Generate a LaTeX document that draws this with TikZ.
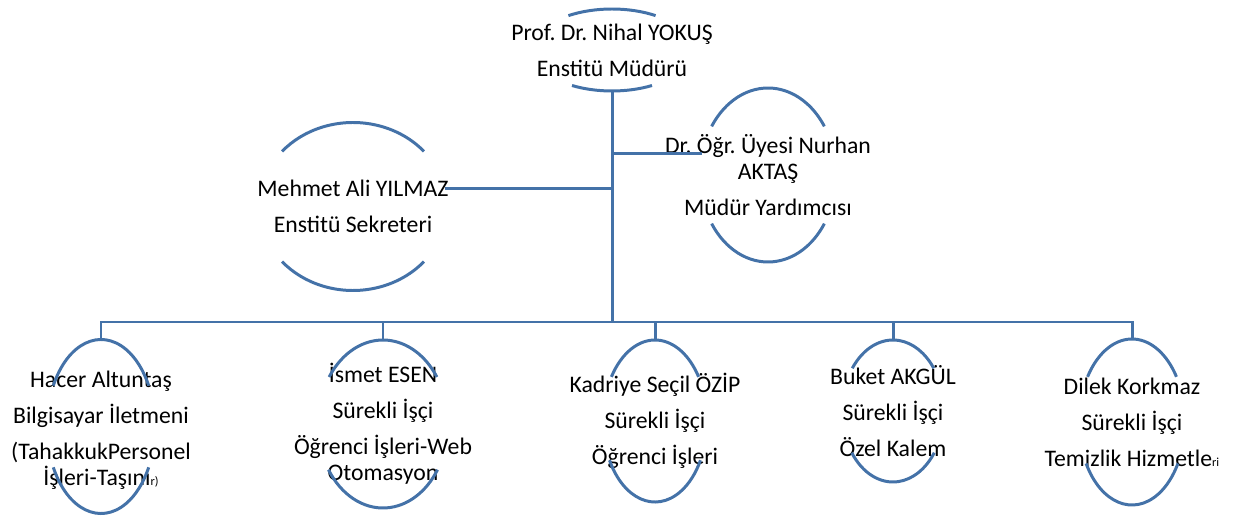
\documentclass[tikz,border=0pt]{standalone}
\usepackage{fontspec}
\setmainfont{Carlito}
\usepackage{tikz}
\usetikzlibrary{positioning, shapes.geometric}
\definecolor{orgblue}{RGB}{68,114,168}
\frenchspacing

\begin{document}
\begin{tikzpicture}[
    person/.style={ellipse, inner sep=0pt, outer sep=0pt},
    persontext/.style={align=center, inner sep=0pt,
        font=\fontsize{13.5}{15}\selectfont},
    orgline/.style={draw=orgblue, line width=1.7pt},
]
\useasboundingbox (0,0) rectangle (24.68,10.36);

% management
\node[person, minimum width=3.2cm, minimum height=1.64cm,
    label={[persontext]center:{Prof. Dr. Nihal YOKUŞ\\[5.5pt] Enstitü Müdürü}}] (dir) at (12.24, 9.36) {};
\node[person, minimum width=2.72cm, minimum height=3.48cm,
    label={[persontext]center:{Dr. Öğr. Üyesi Nurhan\\ AKTAŞ\\[5.5pt] Müdür Yardımcısı}}] (nurhan) at (15.36, 6.86) {};
\node[person, minimum width=3.76cm, minimum height=3.36cm,
    label={[persontext]center:{Mehmet Ali YILMAZ\\[5.5pt] Enstitü Sekreteri}}] (mehmet) at (7.06, 6.23) {};

% staff
\node[person, minimum width=2.16cm, minimum height=3.48cm,
    label={[persontext, yshift=-2pt]center:{Hacer Altuntaş\\[5.5pt] Bilgisayar İletmeni\\[5.5pt] (TahakkukPersonel\\ İşleri-Taşını{\fontsize{7}{8}\selectfont r)}}}] (hacer) at (2.02, 1.83) {};
\node[person, minimum width=2.6cm, minimum height=3.36cm,
    label={[persontext]center:{İsmet ESEN\\[5.5pt] Sürekli İşçi\\[5.5pt] Öğrenci İşleri-Web\\ Otomasyon}}] (ismet) at (7.66, 1.88) {};
\node[person, minimum width=2.08cm, minimum height=3.24cm,
    label={[persontext]center:{Kadriye Seçil ÖZİP\\[5.5pt] Sürekli İşçi\\[5.5pt] Öğrenci İşleri}}] (kadriye) at (13.10, 1.94) {};
\node[person, minimum width=2.04cm, minimum height=2.84cm,
    label={[persontext]center:{Buket AKGÜL\\[5.5pt] Sürekli İşçi\\[5.5pt] Özel Kalem}}] (buket) at (17.86, 2.14) {};
\node[person, minimum width=2.12cm, minimum height=3.32cm,
    label={[persontext]center:{Dilek Korkmaz\\[5.5pt] Sürekli İşçi\\[5.5pt] Temizlik Hizmetle{\fontsize{7}{8}\selectfont ri}}}] (dilek) at (22.64, 1.92) {};

% open ovals
\draw[orgline] ([shift={(123:1.6 and 0.82)}]dir.center) arc[start angle=123, end angle=57, x radius=1.6, y radius=0.82];
\draw[orgline] ([shift={(240:1.6 and 0.82)}]dir.center) arc[start angle=240, end angle=300, x radius=1.6, y radius=0.82];
\draw[orgline] ([shift={(146:1.36 and 1.74)}]nurhan.center) arc[start angle=146, end angle=34, x radius=1.36, y radius=1.74];
\draw[orgline] ([shift={(214:1.36 and 1.74)}]nurhan.center) arc[start angle=214, end angle=326, x radius=1.36, y radius=1.74];
\draw[orgline] ([shift={(139:1.88 and 1.68)}]mehmet.center) arc[start angle=139, end angle=41, x radius=1.88, y radius=1.68];
\draw[orgline] ([shift={(221:1.88 and 1.68)}]mehmet.center) arc[start angle=221, end angle=319, x radius=1.88, y radius=1.68];
\draw[orgline] ([shift={(152:1.08 and 1.74)}]hacer.center) arc[start angle=152, end angle=28, x radius=1.08, y radius=1.74];
\draw[orgline] ([shift={(208:1.08 and 1.74)}]hacer.center) arc[start angle=208, end angle=332, x radius=1.08, y radius=1.74];
\draw[orgline] ([shift={(146:1.3 and 1.68)}]ismet.center) arc[start angle=146, end angle=34, x radius=1.3, y radius=1.68];
\draw[orgline] ([shift={(213:1.3 and 1.68)}]ismet.center) arc[start angle=213, end angle=327, x radius=1.3, y radius=1.68];
\draw[orgline] ([shift={(147:1.04 and 1.62)}]kadriye.center) arc[start angle=147, end angle=33, x radius=1.04, y radius=1.62];
\draw[orgline] ([shift={(209:1.04 and 1.62)}]kadriye.center) arc[start angle=209, end angle=331, x radius=1.04, y radius=1.62];
\draw[orgline] ([shift={(143:1.02 and 1.42)}]buket.center) arc[start angle=143, end angle=37, x radius=1.02, y radius=1.42];
\draw[orgline] ([shift={(216:1.02 and 1.42)}]buket.center) arc[start angle=216, end angle=324, x radius=1.02, y radius=1.42];
\draw[orgline] ([shift={(147:1.06 and 1.66)}]dilek.center) arc[start angle=147, end angle=33, x radius=1.06, y radius=1.66];
\draw[orgline] ([shift={(210:1.06 and 1.66)}]dilek.center) arc[start angle=210, end angle=330, x radius=1.06, y radius=1.66];

% connectors
\coordinate (bus) at (dir.south |- 0,3.92);
\draw[orgline] (dir.south) -- (bus);
\draw[orgline] (dir.south |- nurhan.162) -- (nurhan.162);
\draw[orgline] (dir.south |- mehmet.11) -- (mehmet.11);
\draw[orgline] (hacer.north) |- (bus) -| (dilek.north);
\draw[orgline] (ismet.north) -- (ismet.north |- bus);
\draw[orgline] (kadriye.north) -- (kadriye.north |- bus);
\draw[orgline] (buket.north) -- (buket.north |- bus);
\end{tikzpicture}
\end{document}
